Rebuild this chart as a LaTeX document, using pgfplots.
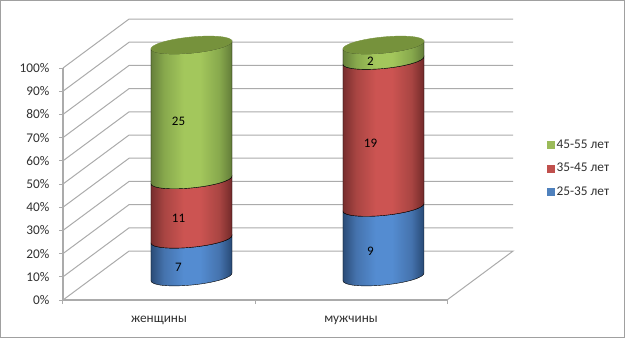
\documentclass[border=0pt]{standalone}
\usepackage{pgfplots}
\pgfplotsset{compat=1.18}
\usepackage{pgfplotstable}
\usepackage{fontspec}
\setmainfont{Carlito}
\definecolor{gridc}{HTML}{ABABAB}
\definecolor{txt}{HTML}{303030}
\definecolor{frame}{HTML}{A0A0A0}
\definecolor{capc}{HTML}{76923C}
\definecolor{bluekey}{HTML}{4F81BD}
\definecolor{redkey}{HTML}{C0504D}
\definecolor{greenkey}{HTML}{9BBB59}
\pgfdeclarehorizontalshading{cylblue}{100bp}{
 rgb(0bp)=(0.17,0.30,0.47); rgb(25bp)=(0.17,0.30,0.47); rgb(33bp)=(0.27,0.45,0.68); rgb(45bp)=(0.33,0.55,0.82); rgb(55bp)=(0.33,0.55,0.82); rgb(67bp)=(0.27,0.45,0.68); rgb(75bp)=(0.15,0.28,0.45); rgb(100bp)=(0.15,0.28,0.45)}
\pgfdeclarehorizontalshading{cylred}{100bp}{
 rgb(0bp)=(0.47,0.18,0.18); rgb(25bp)=(0.47,0.18,0.18); rgb(33bp)=(0.66,0.27,0.26); rgb(45bp)=(0.80,0.33,0.32); rgb(55bp)=(0.80,0.33,0.32); rgb(67bp)=(0.66,0.27,0.26); rgb(75bp)=(0.44,0.16,0.16); rgb(100bp)=(0.44,0.16,0.16)}
\pgfdeclarehorizontalshading{cylgreen}{100bp}{
 rgb(0bp)=(0.40,0.50,0.23); rgb(25bp)=(0.40,0.50,0.23); rgb(33bp)=(0.53,0.66,0.30); rgb(45bp)=(0.64,0.78,0.36); rgb(55bp)=(0.64,0.78,0.36); rgb(67bp)=(0.53,0.66,0.30); rgb(75bp)=(0.38,0.48,0.22); rgb(100bp)=(0.38,0.48,0.22)}
\pgfplotstableread{
cat base h val cap
0.5 0 16.28 7 0
1.5 0 30.00 9 0
}\tblue
\pgfplotstableread{
cat base h val cap
0.5 16.28 25.58 11 0
1.5 30.00 63.33 19 0
}\tred
\pgfplotstableread{
cat base h val cap
0.5 41.86 58.14 25 1
1.5 93.33 6.67 2 1
}\tgreen
\pgfplotstableread{
x y
0 0
0.344 21.1
2.344 21.1
2 0
nan nan
0 10
0.344 31.1
2.344 31.1
nan nan
0 20
0.344 41.1
2.344 41.1
nan nan
0 30
0.344 51.1
2.344 51.1
nan nan
0 40
0.344 61.1
2.344 61.1
nan nan
0 50
0.344 71.1
2.344 71.1
nan nan
0 60
0.344 81.1
2.344 81.1
nan nan
0 70
0.344 91.1
2.344 91.1
nan nan
0 80
0.344 101.1
2.344 101.1
nan nan
0 90
0.344 111.1
2.344 111.1
nan nan
0 100
0.344 121.1
2.344 121.1
}\tgrid
\def\cyla{5.6}
\def\C#1#2#3{([xshift=32.5pt,yshift=#1pt+23pt,rotate=\cyla]#2pt,#3pt)}
% half-ellipse at height #1, with signed minor radius #2 and its control offset #3
\def\halfLR#1#2#3{\C{#1}{-40.7}{0}
 .. controls \C{#1}{-40.7}{#3} and \C{#1}{-22.48}{#2} .. \C{#1}{0}{#2}
 .. controls \C{#1}{22.48}{#2} and \C{#1}{40.7}{#3} .. \C{#1}{40.7}{0}}
\def\halfRL#1#2#3{\C{#1}{40.7}{0}
 .. controls \C{#1}{40.7}{#3} and \C{#1}{22.48}{#2} .. \C{#1}{0}{#2}
 .. controls \C{#1}{-22.48}{#2} and \C{#1}{-40.7}{#3} .. \C{#1}{-40.7}{0}}
\newcommand\drawseg[1]{%
 \pgfmathsetmacro\hp{\hval*2.32}%
 \shade[shading=#1] \halfLR{0}{-8}{-4.42} -- \halfRL{\hp}{-8}{-4.42} -- cycle;
 \ifdim\capflag pt>0.5pt
  \fill[capc] \halfLR{\hp}{-8}{-4.42} -- \halfRL{\hp}{8}{4.42} -- cycle;
 \fi
 \pgfmathsetmacro\hq{\hp/2+14}%
 \node[text=black,font=\fontsize{13}{13}\selectfont,inner sep=0pt] at (19.5pt,\hq pt) {\pgfmathprintnumber[assume math mode=true,precision=0]{\vallab}};%
}
\pgfplotsset{cyl/.style={only marks,forget plot,mark=*,scatter,
  visualization depends on=\thisrow{h} \as \hval,
  visualization depends on=\thisrow{val} \as \vallab,
  visualization depends on=\thisrow{cap} \as \capflag,
  scatter/@pre marker code/.code={\drawseg{#1}\begingroup\pgfsetfillopacity{0}\pgfsetstrokeopacity{0}},
  scatter/@post marker code/.code={\endgroup}},
  first/.style={skip coords between index={1}{2}},
  second/.style={skip coords between index={0}{1}}}
\begin{document}
\begin{tikzpicture}[x=1pt,y=1pt]
\path[use as bounding box] (0,0) rectangle (625,338);
\begin{axis}[
  at={(63pt,38pt)},anchor=south west,
  scale only axis,width=384pt,height=232pt,
  xmin=0,xmax=2,ymin=0,ymax=100,clip=false,
  axis x line=bottom,axis y line=left,
  axis line style={-,gridc,line width=1.1pt},
  tick style={gridc,line width=1pt},
  tick align=outside,major tick length=4pt,
  xtick={0,1,2},xticklabels={},
  extra x ticks={0.5,1.5},
  extra x tick labels={женщины,мужчины},
  extra x tick style={major tick length=0pt,tick style={draw=none}},
  ytick={0,10,...,100},
  yticklabel={\pgfmathprintnumber{\tick}\%},
  /pgf/number format/assume math mode=true,
  ticklabel style={font=\fontsize{13.3}{13.3}\selectfont,text=txt},
  xticklabel style={yshift=-13pt},
  yticklabel style={xshift=-6pt},
  unbounded coords=jump,
  legend style={at={(1.2605,0.567)},anchor=west,draw=none,fill=none,
    font=\fontsize{13.3}{13.3}\selectfont,text=txt,row sep=13.5pt,
    inner sep=0pt,nodes={inner sep=0pt}},
  legend cell align=left,
  legend image code/.code={\fill[#1] (0pt,-3.5pt) rectangle (7pt,3.5pt);\path (9pt,0pt);},
]
\addlegendimage{greenkey}\addlegendentry{45-55 лет}
\addlegendimage{redkey}\addlegendentry{35-45 лет}
\addlegendimage{bluekey}\addlegendentry{25-35 лет}
\addplot[gridc,line width=1pt,forget plot] table[x=x,y=y] {\tgrid};
\addplot[cyl=cylblue,first] table[x=cat,y=base] {\tblue};
\addplot[cyl=cylblue,second] table[x=cat,y=base] {\tblue};
\addplot[cyl=cylred,first] table[x=cat,y=base] {\tred};
\addplot[cyl=cylred,second] table[x=cat,y=base] {\tred};
\addplot[cyl=cylgreen,first] table[x=cat,y=base] {\tgreen};
\addplot[cyl=cylgreen,second] table[x=cat,y=base] {\tgreen};
\end{axis}
\draw[frame,line width=1.2pt] (0.6,0.6) rectangle (624.4,337.4);
\end{tikzpicture}
\end{document}
